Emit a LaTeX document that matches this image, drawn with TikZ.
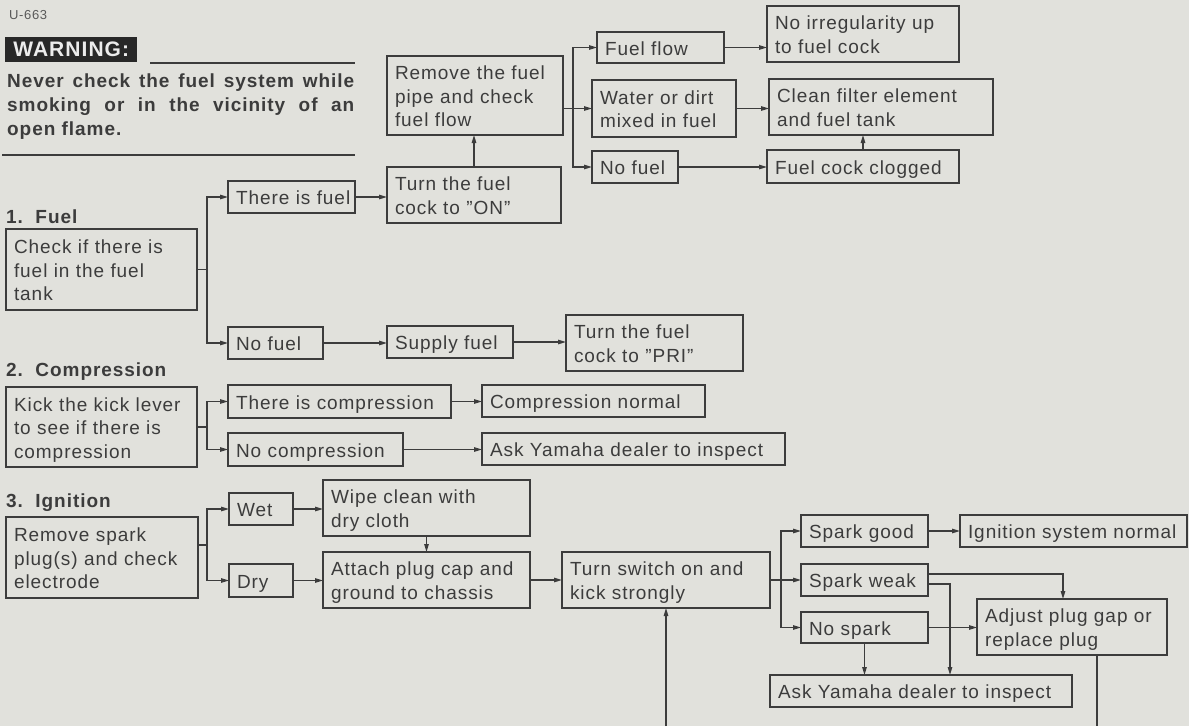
\documentclass[tikz,border=0pt]{standalone}
\usepackage{fontspec}
\setmainfont{Liberation Sans}[LetterSpace=5]
\usetikzlibrary{arrows.meta}
\definecolor{bg}{RGB}{225,225,220}
\definecolor{ink}{RGB}{60,60,60}
\definecolor{warnfill}{RGB}{40,40,40}
\definecolor{warntext}{RGB}{236,236,236}
\newcommand{\bx}[6]{%
  \pgfmathsetmacro{\bxtw}{#4-16}%
  \node[box, text width=\bxtw pt, minimum height=#5pt] (#1) at (#2,#3)
    {\raisebox{-3pt}[\height][\depth]{\begin{tabular}{@{}l@{}}#6\end{tabular}}};}
\tikzset{
  box/.style={draw=ink, line width=1.4pt, anchor=north west, inner xsep=8pt, inner ysep=0pt,
    outer sep=0pt, align=left, text=ink, font=\fontsize{19}{23.5}\selectfont},
  ln/.style={draw=ink, line width=1.2pt},
  arr/.style={ln, -{Triangle[length=8pt,width=4.5pt]}},
  head/.style={anchor=west, text=ink, inner sep=0pt, font=\bfseries\fontsize{19}{23.5}\selectfont},
}
\begin{document}
\begin{tikzpicture}[x=1pt,y=-1pt]
\fill[bg] (0,0) rectangle (1189,726);
\useasboundingbox (0,0) rectangle (1189,726);

% header
\node[anchor=west, inner sep=0pt, text=ink!85, font=\fontsize{13}{15}\selectfont] (u663) at (9,15) {U-663};
\node[anchor=north west, fill=warnfill, text=warntext, minimum width=132pt, minimum height=25pt,
  inner sep=0pt, font=\bfseries\fontsize{21}{24}\selectfont] (warnbox) at (5,37) {WARNING:};
\draw[ink, line width=1.8pt] (150,63) -- (355,63);
\draw[ink, line width=1.8pt] (2,155) -- (355,155);
\node[anchor=west, inner sep=0pt, align=left, text=ink, font=\bfseries\fontsize{19}{24}\selectfont] (warntext) at (7,107)
  {\makebox[347pt][s]{Never check the fuel system while}\\\makebox[347pt][s]{smoking or in the vicinity of an}\\open flame.};

% headings
\node[head] (h1) at (6,217) {1.\ \ Fuel};
\node[head] (h2) at (6,372) {2.\ \ Compression};
\node[head] (h3) at (6,503) {3.\ \ Ignition};

% fuel section
\bx{remove}{387}{56}{176}{79}{Remove the fuel\\pipe and check\\fuel flow}
\bx{fuelflow}{597}{32}{127}{31}{Fuel flow}
\bx{noirreg}{767}{6}{192}{56}{No irregularity up\\to fuel cock}
\bx{water}{592}{80}{144}{57}{Water or dirt\\mixed in fuel}
\bx{clean}{769}{79}{224}{56}{Clean filter element\\and fuel tank}
\bx{nofuelA}{592}{151}{86}{32}{No fuel}
\bx{clogged}{767}{150}{192}{33}{Fuel cock clogged}
\bx{check}{6}{229}{191}{81}{Check if there is\\fuel in the fuel\\tank}
\bx{hasfuel}{228}{181}{127}{32}{There is fuel}
\bx{turnon}{387}{167}{174}{56}{Turn the fuel\\cock to ''ON''}
\bx{nofuelB}{228}{327}{95}{32}{No fuel}
\bx{supply}{387}{326}{126}{32}{Supply fuel}
\bx{pri}{566}{315}{177}{56}{Turn the fuel\\cock to ''PRI''}

% compression section
\bx{kick}{6}{387}{191}{80}{Kick the kick lever\\to see if there is\\compression}
\bx{hascomp}{228}{385}{223}{33}{There is compression}
\bx{compnorm}{482}{385}{223}{32}{Compression normal}
\bx{nocomp}{228}{433}{175}{33}{No compression}
\bx{askA}{482}{433}{303}{32}{Ask Yamaha dealer to inspect}

% ignition section
\bx{rspark}{6}{517}{192}{81}{Remove spark\\plug(s) and check\\electrode}
\bx{wet}{229}{493}{64}{32}{Wet}
\bx{dry}{229}{564}{64}{33}{Dry}
\bx{wipe}{323}{480}{207}{56}{Wipe clean with\\dry cloth}
\bx{attach}{323}{552}{207}{56}{Attach plug cap and\\ground to chassis}
\bx{turn}{562}{552}{208}{56}{Turn switch on and\\kick strongly}
\bx{sgood}{801}{515}{127}{32}{Spark good}
\bx{ignorm}{960}{515}{227}{32}{Ignition system normal}
\bx{sweak}{801}{564}{127}{32}{Spark weak}
\bx{adjust}{977}{599}{190}{56}{Adjust plug gap or\\replace plug}
\bx{nospark}{801}{612}{127}{31}{No spark}
\bx{askB}{770}{675}{302}{32}{Ask Yamaha dealer to inspect}

% fuel connectors
\draw[ln] (check.east) -- ++(10,0) coordinate (fb);
\draw[arr] (fb) |- (hasfuel.west);
\draw[arr] (fb) |- (nofuelB.west);
\draw[arr] (hasfuel.east) -- (hasfuel.east -| turnon.west);
\draw[arr] (turnon.north) -- (turnon.north |- remove.south);
\draw[ln] (remove.east |- water.west) -- ++(10,0) coordinate (rb);
\draw[arr] (rb) -- (water.west);
\draw[arr] (rb) |- (fuelflow.west);
\draw[arr] (rb) |- (nofuelA.west);
\draw[arr] (fuelflow.east) -- (fuelflow.east -| noirreg.west);
\draw[arr] (water.east) -- (water.east -| clean.west);
\draw[arr] (nofuelA.east) -- (nofuelA.east -| clogged.west);
\draw[arr] (clogged.north) -- (clogged.north |- clean.south);
\draw[arr] (nofuelB.east) -- (nofuelB.east -| supply.west);
\draw[arr] (supply.east) -- (supply.east -| pri.west);

% compression connectors
\draw[ln] (kick.east) -- ++(10,0) coordinate (kb);
\draw[arr] (kb) |- (hascomp.west);
\draw[arr] (kb) |- (nocomp.west);
\draw[arr] (hascomp.east) -- (hascomp.east -| compnorm.west);
\draw[arr] (nocomp.east) -- (nocomp.east -| askA.west);

% ignition connectors
\coordinate (ib) at (207,545);
\draw[ln] (rspark.east |- ib) -- (ib);
\draw[arr] (ib) |- (wet.west);
\draw[arr] (ib) |- (dry.west);
\draw[arr] (wet.east) -- (wet.east -| wipe.west);
\draw[arr] (dry.east) -- (dry.east -| attach.west);
\draw[arr] (wipe.south) -- (attach.north);
\draw[arr] (attach.east) -- (attach.east -| turn.west);
\draw[ln] (turn.east) -- ++(11,0) coordinate (tb);
\draw[arr] (tb) |- (sgood.west);
\draw[arr] (tb) -- (sweak.west);
\draw[arr] (tb) |- (nospark.west);
\draw[arr] (sgood.east) -- (sgood.east -| ignorm.west);
\draw[arr] ([yshift=6pt]sweak.east) -| ([xshift=-9pt]adjust.north);
\draw[arr] ([yshift=-4pt]sweak.east) -| ([xshift=29pt]askB.north);
\draw[arr] (nospark.east) -- (nospark.east -| adjust.west);
\draw[arr] (nospark.south) -- (nospark.south |- askB.north);
\coordinate (outA) at (1097,726);
\draw[ln] ([xshift=25pt]adjust.south) -- (outA);
\coordinate (inT) at (666,726);
\draw[arr] (inT) -- (inT |- turn.south);
\end{tikzpicture}
\end{document}
